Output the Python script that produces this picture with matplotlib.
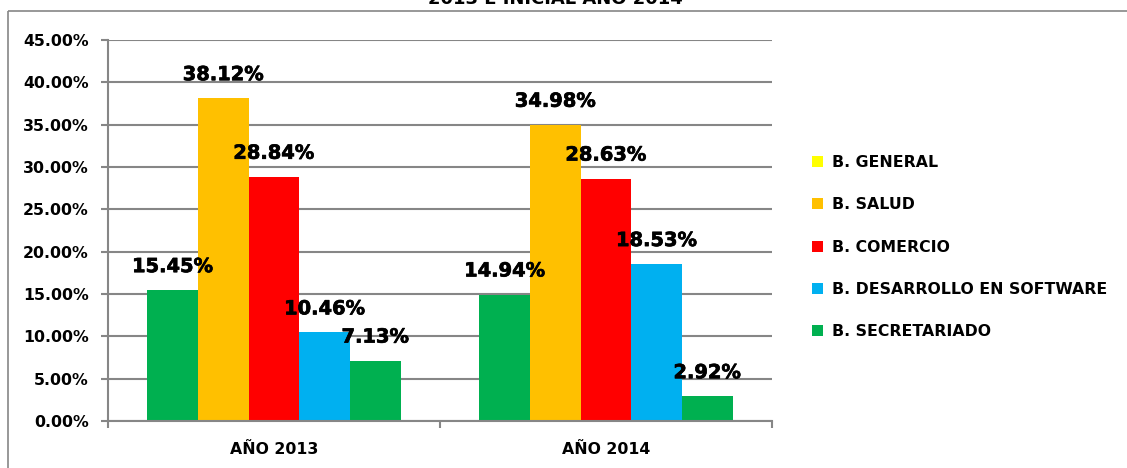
import numpy as np
import matplotlib
matplotlib.use('Agg')
import matplotlib.pyplot as plt
import matplotlib.patheffects as pe
from matplotlib.patches import Patch
from matplotlib.lines import Line2D

# data
years = ['AÑO 2013', 'AÑO 2014']
series = ['B. GENERAL', 'B. SALUD', 'B. COMERCIO', 'B. DESARROLLO EN SOFTWARE', 'B. SECRETARIADO']
values = [
    [15.45, 14.94],
    [38.12, 34.98],
    [28.84, 28.63],
    [10.46, 18.53],
    [7.13, 2.92],
]
legend_colors = ['#FFFF00', '#FFC000', '#FF0000', '#00B0F0', '#00B050']
bar_colors = ['#00B050', '#FFC000', '#FF0000', '#00B0F0', '#00B050']
title = '2013 E INICIAL AÑO 2014'

gray = '#868686'
plt.rcParams['font.family'] = ['DejaVu Sans']
plt.rcParams['font.weight'] = 'bold'

fig = plt.figure(figsize=(11.27, 4.68), dpi=100)
ax = fig.add_axes([108/1127, 1 - 421/468, (772 - 108)/1127, (421 - 40)/468])

x = np.arange(len(years))
w = 0.1525
for i, vals in enumerate(values):
    pos = x + (i - 2) * w
    ax.bar(pos, vals, width=w, color=bar_colors[i], zorder=2)
    for p, v in zip(pos, vals):
        ax.annotate('%.2f%%' % v, (p, v), xytext=(0, 13), textcoords='offset points',
                    ha='center', va='baseline', fontsize=14, fontweight='bold', zorder=5,
                    path_effects=[pe.withStroke(linewidth=0.5, foreground='black')])

ax.set_xlim(-0.5, 1.5)
ax.set_ylim(0, 45)
ax.set_yticks(np.arange(0, 46, 5))
ax.set_yticklabels(['%.2f%%' % t for t in np.arange(0, 46, 5)], fontsize=11.3, fontweight='bold')
ax.set_xticks(x)
ax.set_xticklabels(years, fontsize=11.3, fontweight='bold')
ax.set_xticks([-0.5, 0.5, 1.5], minor=True)
ax.tick_params(axis='x', which='major', length=0, pad=15)
ax.tick_params(axis='x', which='minor', length=5, width=1.5, color=gray)
ax.tick_params(axis='y', length=5, width=1.5, color=gray, pad=9)
ax.yaxis.grid(True, color=gray, linewidth=1.5, zorder=0)
ax.set_axisbelow(True)
for s in ['top', 'right']:
    ax.spines[s].set_visible(False)
for s in ['left', 'bottom']:
    ax.spines[s].set_color(gray)
    ax.spines[s].set_linewidth(1.5)

handles = [Patch(facecolor=c, edgecolor='none') for c in legend_colors]
fig.legend(handles, series, loc='center left', bbox_to_anchor=(812/1127, 1 - 247/468),
           frameon=False, handlelength=0.7, handleheight=0.7, handletextpad=0.55,
           labelspacing=1.75, borderpad=0, borderaxespad=0,
           prop={'size': 11.3, 'weight': 'bold'})

# chart border (cut off on the right and bottom)
top = 1 - 10.7/468
left = 8/1127
fig.add_artist(Line2D([left, left], [-0.05, top], transform=fig.transFigure,
                      color=gray, linewidth=1.2, solid_capstyle='butt'))
fig.add_artist(Line2D([left, 1.05], [top, top], transform=fig.transFigure,
                      color=gray, linewidth=1.2, solid_capstyle='butt'))
fig.text(555/1127, 1 - 4/468, title, ha='center', va='baseline', fontsize=13, fontweight='bold')

fig.savefig('out.png', dpi=100)
